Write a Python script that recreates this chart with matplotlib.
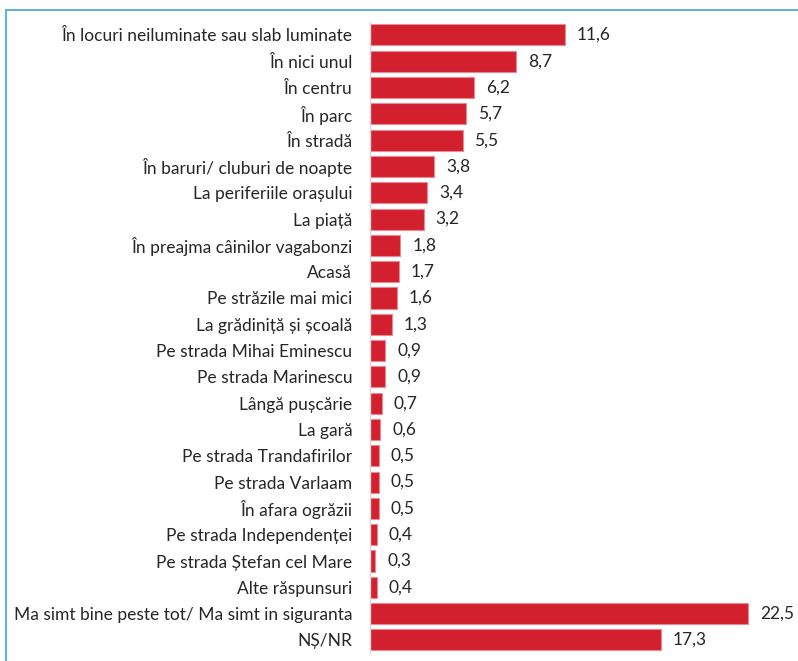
import matplotlib.pyplot as plt
from matplotlib.patches import Rectangle

labels = [
    "În locuri neiluminate sau slab luminate",
    "În nici unul",
    "În centru",
    "În parc",
    "În stradă",
    "În baruri/ cluburi de noapte",
    "La periferiile orașului",
    "La piață",
    "În preajma câinilor vagabonzi",
    "Acasă",
    "Pe străzile mai mici",
    "La grădiniță și școală",
    "Pe strada Mihai Eminescu",
    "Pe strada Marinescu",
    "Lângă pușcărie",
    "La gară",
    "Pe strada Trandafirilor",
    "Pe strada Varlaam",
    "În afara ogrăzii",
    "Pe strada Independenței",
    "Pe strada Ștefan cel Mare",
    "Alte răspunsuri",
    "Ma simt bine peste tot/ Ma simt in siguranta",
    "NȘ/NR",
]
values = [11.6, 8.7, 6.2, 5.7, 5.5, 3.8, 3.4, 3.2, 1.8, 1.7, 1.6, 1.3,
          0.9, 0.9, 0.7, 0.6, 0.5, 0.5, 0.5, 0.4, 0.3, 0.4, 22.5, 17.3]

plt.rcParams['font.family'] = ['Lato', 'DejaVu Sans']

fig = plt.figure(figsize=(7.98, 6.61), dpi=100)
# partial frame (top + left visible)
fig.patches.append(Rectangle((0.0075, -0.1), 1.2, 1.085, transform=fig.transFigure,
                             fill=False, edgecolor='#6AAEDD', linewidth=1.5))

ax = fig.add_axes([0.464, 0.012, 0.526, 0.955])
y = list(range(len(labels)))
ax.barh(y, values, height=0.8, color='#D2202E', edgecolor='#E98A92', linewidth=0.8)
for yi, v in zip(y, values):
    ax.text(v + 0.7, yi, f"{v:.1f}".replace('.', ','), va='center', ha='left',
            fontsize=12.5, color='#262626')

ax.set_ylim(len(labels) - 0.5, -0.5)
ax.set_xlim(0, 25)
ax.set_yticks(y)
ax.set_yticklabels(labels, fontsize=12.5, color='#262626')
ax.tick_params(axis='y', length=0, pad=13)
ax.set_xticks([])
for s in ['top', 'right', 'bottom']:
    ax.spines[s].set_visible(False)
ax.spines['left'].set_color('#D9D9D9')
ax.spines['left'].set_linewidth(1)

fig.savefig('out.png', dpi=100)
